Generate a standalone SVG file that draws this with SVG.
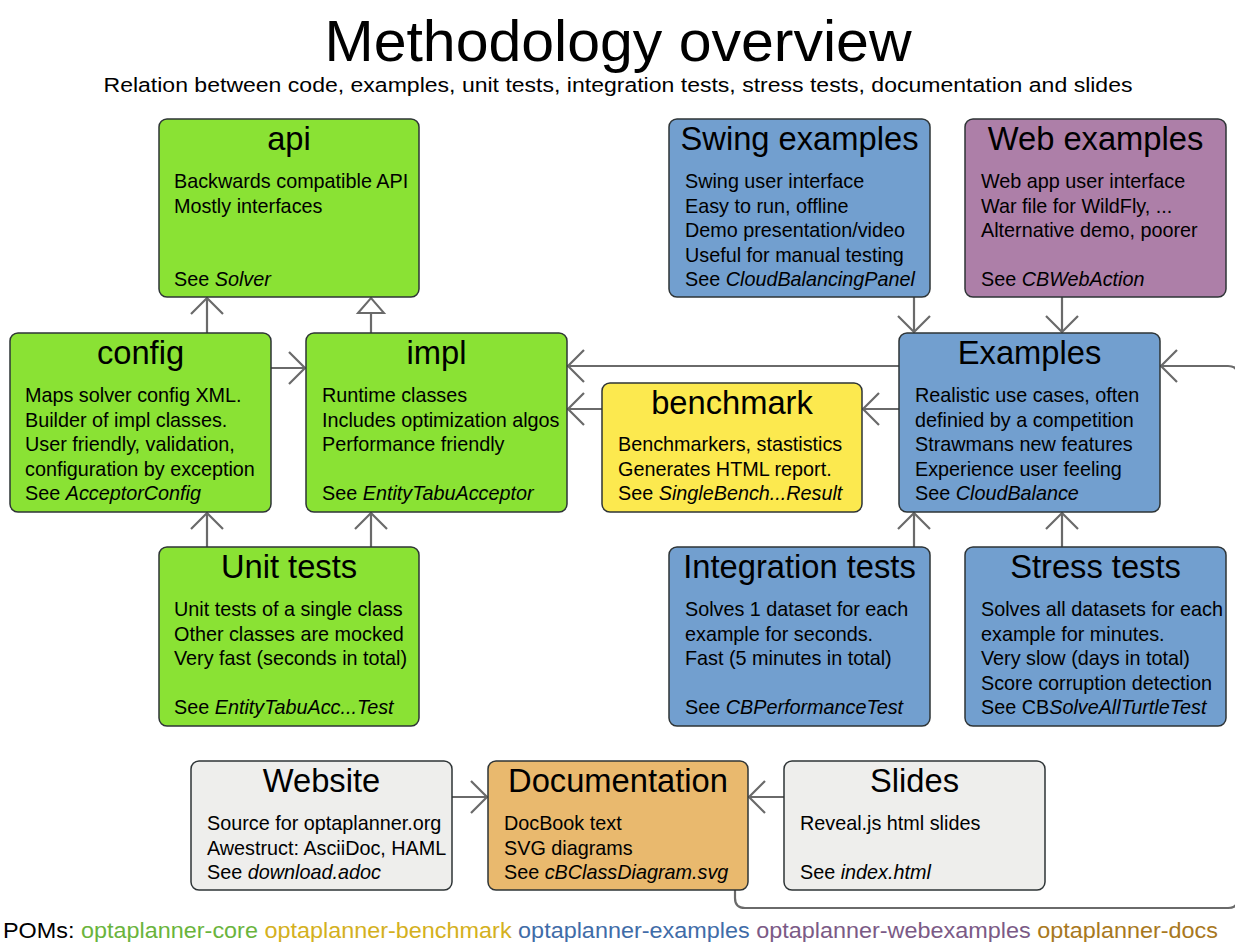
<svg xmlns="http://www.w3.org/2000/svg" width="1235" height="942" viewBox="0 0 1235 942">
<style>
text{font-family:"Liberation Sans",Arial,sans-serif;fill:#000}
.ttl{font-size:57px;text-anchor:middle}
.sub{font-size:20.5px;text-anchor:middle}
.h{font-size:32.7px;text-anchor:middle}
.b{font-size:19.8px}
.i{font-style:italic}
.box{stroke:#2e3436;stroke-width:1.5}
.green{fill:#8ae234}.blue{fill:#729fcf}.purple{fill:#ad7fa8}.yellow{fill:#fce94f}.orange{fill:#e9b96e}.grey{fill:#eeeeec}
.c{fill:none;stroke:#6a6a6a;stroke-width:2.2}
.leg{font-size:21.5px}
</style>
<defs>
<marker id="open" markerUnits="userSpaceOnUse" viewBox="-20 -18 22 36" markerWidth="22" markerHeight="36" refX="0" refY="0" orient="auto">
<path d="M-16,-16 L0,0 L-16,16" fill="none" stroke="#6a6a6a" stroke-width="2.2"/>
</marker>
<marker id="tri" markerUnits="userSpaceOnUse" viewBox="-18 -16 20 32" markerWidth="20" markerHeight="32" refX="0" refY="0" orient="auto">
<path d="M-15,-13 L0,0 L-15,13 Z" fill="#fff" stroke="#6a6a6a" stroke-width="2"/>
</marker>
</defs>
<rect width="1235" height="942" fill="#fff"/>
<text class="ttl" x="618" y="61" textLength="587" lengthAdjust="spacingAndGlyphs">Methodology overview</text>
<text class="sub" x="618" y="92" textLength="1029" lengthAdjust="spacingAndGlyphs">Relation between code, examples, unit tests, integration tests, stress tests, documentation and slides</text>

<g id="connectors">
<path class="c" d="M207,333 V298" marker-end="url(#open)"/>
<path class="c" d="M371,333 V298" marker-end="url(#tri)"/>
<path class="c" d="M207,547 V513" marker-end="url(#open)"/>
<path class="c" d="M371,547 V513" marker-end="url(#open)"/>
<path class="c" d="M271,368 H305" marker-end="url(#open)"/>
<path class="c" d="M899,366 H568" marker-end="url(#open)"/>
<path class="c" d="M602,409 H568" marker-end="url(#open)"/>
<path class="c" d="M899,409 H863" marker-end="url(#open)"/>
<path class="c" d="M914,297 V332" marker-end="url(#open)"/>
<path class="c" d="M1062,297 V332" marker-end="url(#open)"/>
<path class="c" d="M914,547 V513" marker-end="url(#open)"/>
<path class="c" d="M1062,547 V513" marker-end="url(#open)"/>
<path class="c" d="M452,797 H487" marker-end="url(#open)"/>
<path class="c" d="M784,797 H749" marker-end="url(#open)"/>
<path class="c" d="M735,890 V898 Q735,908 745,908 H1228 Q1238,908 1238,898 V376 Q1238,366 1228,366 H1161" marker-end="url(#open)"/>
</g>

<g id="api"><rect class="box green" x="159" y="119" width="260" height="178" rx="8"/>
<text class="h" x="289" y="150">api</text>
<text class="b" x="174" y="188">Backwards compatible API</text>
<text class="b" x="174" y="212.5">Mostly interfaces</text>
<text class="b" x="174" y="286">See <tspan class="i">Solver</tspan></text></g>

<g id="config"><rect class="box green" x="10" y="333" width="261" height="179" rx="8"/>
<text class="h" x="140.5" y="364">config</text>
<text class="b" x="25" y="402">Maps solver config XML.</text>
<text class="b" x="25" y="426.5">Builder of impl classes.</text>
<text class="b" x="25" y="451">User friendly, validation,</text>
<text class="b" x="25" y="475.5">configuration by exception</text>
<text class="b" x="25" y="500">See <tspan class="i">AcceptorConfig</tspan></text></g>

<g id="impl"><rect class="box green" x="306" y="333" width="261" height="179" rx="8"/>
<text class="h" x="436.5" y="364">impl</text>
<text class="b" x="322" y="402">Runtime classes</text>
<text class="b" x="322" y="426.5">Includes optimization algos</text>
<text class="b" x="322" y="451">Performance friendly</text>
<text class="b" x="322" y="500">See <tspan class="i">EntityTabuAcceptor</tspan></text></g>

<g id="benchmark"><rect class="box yellow" x="602" y="383" width="260" height="129" rx="8"/>
<text class="h" x="732" y="414">benchmark</text>
<text class="b" x="618" y="451">Benchmarkers, stastistics</text>
<text class="b" x="618" y="475.5">Generates HTML report.</text>
<text class="b" x="618" y="500">See <tspan class="i">SingleBench...Result</tspan></text></g>

<g id="examples"><rect class="box blue" x="899" y="333" width="261" height="179" rx="8"/>
<text class="h" x="1029.5" y="364">Examples</text>
<text class="b" x="915" y="402">Realistic use cases, often</text>
<text class="b" x="915" y="426.5">definied by a competition</text>
<text class="b" x="915" y="451">Strawmans new features</text>
<text class="b" x="915" y="475.5">Experience user feeling</text>
<text class="b" x="915" y="500">See <tspan class="i">CloudBalance</tspan></text></g>

<g id="swing"><rect class="box blue" x="669" y="119" width="261" height="178" rx="8"/>
<text class="h" x="799.5" y="150">Swing examples</text>
<text class="b" x="685" y="188">Swing user interface</text>
<text class="b" x="685" y="212.5">Easy to run, offline</text>
<text class="b" x="685" y="237">Demo presentation/video</text>
<text class="b" x="685" y="261.5">Useful for manual testing</text>
<text class="b" x="685" y="286">See <tspan class="i">CloudBalancingPanel</tspan></text></g>

<g id="web"><rect class="box purple" x="965" y="119" width="261" height="178" rx="8"/>
<text class="h" x="1095.5" y="150">Web examples</text>
<text class="b" x="981" y="188">Web app user interface</text>
<text class="b" x="981" y="212.5">War file for WildFly, ...</text>
<text class="b" x="981" y="237">Alternative demo, poorer</text>
<text class="b" x="981" y="286">See <tspan class="i">CBWebAction</tspan></text></g>

<g id="unittests"><rect class="box green" x="159" y="547" width="260" height="179" rx="8"/>
<text class="h" x="289" y="578">Unit tests</text>
<text class="b" x="174" y="616">Unit tests of a single class</text>
<text class="b" x="174" y="640.5">Other classes are mocked</text>
<text class="b" x="174" y="665">Very fast (seconds in total)</text>
<text class="b" x="174" y="714">See <tspan class="i">EntityTabuAcc...Test</tspan></text></g>

<g id="integration"><rect class="box blue" x="669" y="547" width="261" height="179" rx="8"/>
<text class="h" x="799.5" y="578">Integration tests</text>
<text class="b" x="685" y="616">Solves 1 dataset for each</text>
<text class="b" x="685" y="640.5">example for seconds.</text>
<text class="b" x="685" y="665">Fast (5 minutes in total)</text>
<text class="b" x="685" y="714">See <tspan class="i">CBPerformanceTest</tspan></text></g>

<g id="stress"><rect class="box blue" x="965" y="547" width="261" height="179" rx="8"/>
<text class="h" x="1095.5" y="578">Stress tests</text>
<text class="b" x="981" y="616">Solves all datasets for each</text>
<text class="b" x="981" y="640.5">example for minutes.</text>
<text class="b" x="981" y="665">Very slow (days in total)</text>
<text class="b" x="981" y="689.5">Score corruption detection</text>
<text class="b" x="981" y="714">See CB<tspan class="i">SolveAllTurtleTest</tspan></text></g>

<g id="website"><rect class="box grey" x="191" y="761" width="261" height="129" rx="8"/>
<text class="h" x="321.5" y="792">Website</text>
<text class="b" x="207" y="830">Source for optaplanner.org</text>
<text class="b" x="207" y="854.5">Awestruct: AsciiDoc, HAML</text>
<text class="b" x="207" y="879">See <tspan class="i">download.adoc</tspan></text></g>

<g id="documentation"><rect class="box orange" x="488" y="761" width="260" height="129" rx="8"/>
<text class="h" x="618" y="792">Documentation</text>
<text class="b" x="504" y="830">DocBook text</text>
<text class="b" x="504" y="854.5">SVG diagrams</text>
<text class="b" x="504" y="879">See <tspan class="i">cBClassDiagram.svg</tspan></text></g>

<g id="slides"><rect class="box grey" x="784" y="761" width="261" height="129" rx="8"/>
<text class="h" x="914.5" y="792">Slides</text>
<text class="b" x="800" y="830">Reveal.js html slides</text>
<text class="b" x="800" y="879">See <tspan class="i">index.html</tspan></text></g>

<g id="legend">
<text class="leg" x="3" y="938" textLength="1215" lengthAdjust="spacingAndGlyphs">POMs: <tspan fill="#6ab43c">optaplanner-core</tspan> <tspan fill="#d4b020">optaplanner-benchmark</tspan> <tspan fill="#3f6ca8">optaplanner-examples</tspan> <tspan fill="#7b5a86">optaplanner-webexamples</tspan> <tspan fill="#a87820">optaplanner-docs</tspan></text>
</g>
</svg>
